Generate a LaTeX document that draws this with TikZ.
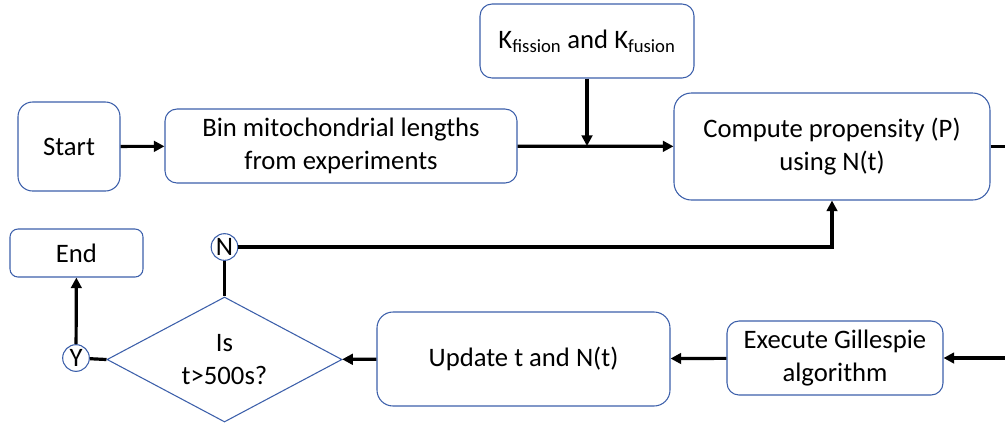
\documentclass[tikz,border=0pt]{standalone}
\usepackage{fontspec}
\setmainfont{Carlito}
\usetikzlibrary{shapes.geometric,arrows.meta}
\definecolor{boxblue}{RGB}{60,95,170}

\begin{document}
\begin{tikzpicture}[x=0.75pt,y=-0.75pt,
    font=\fontsize{20}{25}\selectfont,
    box/.style={draw=boxblue,line width=0.8pt,rounded corners=9pt,align=center,inner sep=0pt},
    decision/.style={draw=boxblue,line width=0.8pt,diamond,aspect=1.88,inner sep=0pt,align=center,
        minimum width=176.25pt,minimum height=93.75pt},
    answer/.style={draw=boxblue,line width=0.8pt,circle,inner sep=0pt,minimum size=20pt},
    flow/.style={line width=2.4pt,-{Triangle[length=8pt,width=8pt]}},
    link/.style={line width=2.4pt}]
    \clip (0,0) rectangle (1005,426);

    \node[box,minimum width=76.5pt,minimum height=66.75pt,rounded corners=11pt] (start) at (69,146.5) {Start};
    \node[box,minimum width=264pt,minimum height=55.5pt] (bin) at (341,146) {Bin mitochondrial lengths\\from experiments};
    \node[box,minimum width=160.5pt,minimum height=55.5pt] (rates) at (587,41) {K\textsubscript{fission} and K\textsubscript{fusion}};
    \node[box,minimum width=237pt,minimum height=80.25pt,rounded corners=13pt] (propensity) at (832,146.5) {Compute propensity (P)\\using N(t)};
    \node[box,minimum width=162pt,minimum height=55.5pt] (gillespie) at (835,358) {Execute Gillespie\\algorithm};
    \node[box,minimum width=219.75pt,minimum height=70.5pt,rounded corners=12pt] (update) at (523.5,359) {Update t and N(t)};
    \node[decision] (check) at (224.5,359.5) {Is\\t>500s?};
    \node[box,minimum width=99.75pt,minimum height=36pt,rounded corners=6pt] (end) at (76.5,253) {End};
    \node[answer] (yes) at (76,358) {Y};
    \node[answer] (no) at (224.5,247) {N};

    \coordinate (join) at (587,146);
    \coordinate (outright) at (1030,146.5);
    \coordinate (backright) at (1030,358);

    \draw[flow] (start) -- (bin);
    \draw[flow] (bin) -- (propensity);
    \draw[flow] (rates) -- (join);
    \draw[link] (propensity.east) -- (outright) -- (backright);
    \draw[flow] (backright) -- (gillespie.east);
    \draw[flow] (gillespie) -- (update);
    \draw[flow] (update) -- (check);
    \draw[link] (check.west) -- (yes);
    \draw[flow] (yes) -- (end);
    \draw[link] (check.north) -- (no);
    \draw[flow] (no) -| (propensity.south);
\end{tikzpicture}
\end{document}
